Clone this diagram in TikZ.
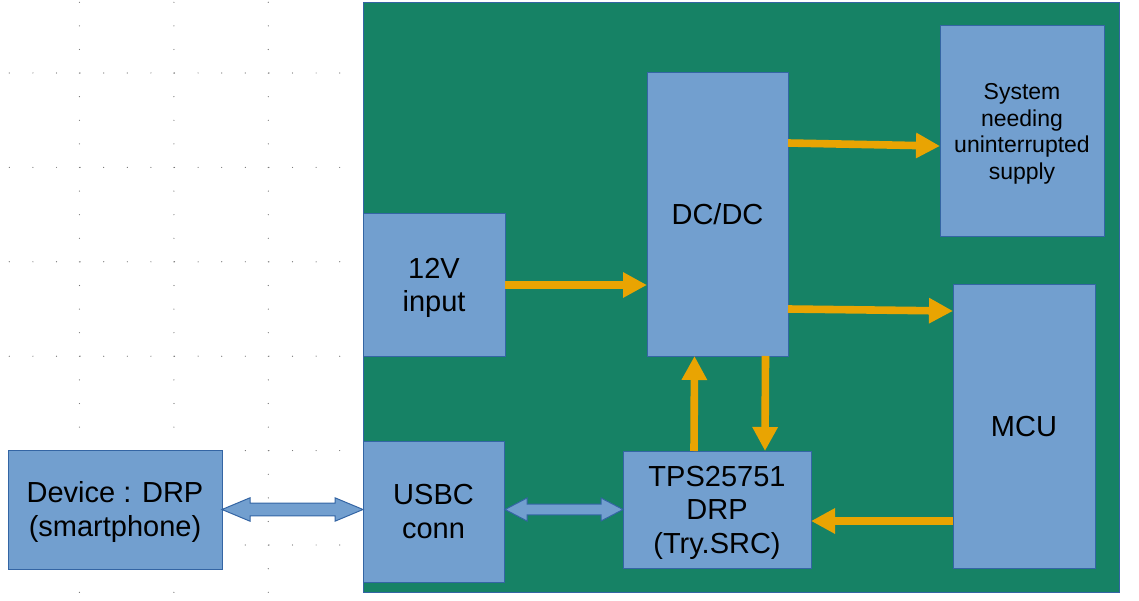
\documentclass[tikz,border=0pt]{standalone}
\usepackage{fontspec}
\setmainfont{Liberation Sans}
\usepackage{xcolor}
\usepackage{tikz}
\usetikzlibrary{arrows.meta,calc}
\definecolor{boardgreen}{HTML}{168265}
\definecolor{boxfill}{HTML}{729FCF}
\definecolor{boxline}{HTML}{3465A4}
\definecolor{pwrorange}{HTML}{E9A402}
\definecolor{griddot}{HTML}{707070}

\tikzset{
  blk/.style={rectangle, draw=boxline, fill=boxfill, line width=1pt, inner sep=0pt, outer sep=0pt,
    align=center, text=black, font=\fontsize{29}{33.5}\selectfont, text height=26.2pt, text depth=6.1pt},
  twoline/.style={text height=59.7pt},
  threeline/.style={text height=93.2pt},
  pwr/.style={draw=pwrorange, line width=7.6pt, -{Triangle[length=24pt,width=24pt]}},
  datalink/.style={draw=boxline, fill=boxfill, line width=1pt, line join=miter}
}

\begin{document}
\begin{tikzpicture}[x=1pt, y=-1pt]
    \useasboundingbox (0,0) rectangle (1139,601);

    % ========== Grid of the drawing page ==========
    \foreach \gx in {79.4,173.9,268.3}
        \foreach \k in {0,...,25}
            \fill[griddot] (\gx,2.3+23.6*\k) circle (0.6pt);
    \foreach \gy in {73,167.4,261.8,356.2,450.6,545}
        \foreach \k in {0,...,14}
            \fill[griddot] (9.3+23.6*\k,\gy) circle (0.6pt);

    % ========== Board ==========
    \draw[boxline, fill=boardgreen, line width=0.8pt] (363,2) rectangle (1119,592);

    % Blocks on the board
    \node[blk, twoline, minimum width=142pt, minimum height=142pt] (vin) at (434,285) {12V\\input};
    \node[blk, minimum width=141pt, minimum height=283pt] (dcdc) at (717.5,214.5) {DC/DC};
    \node[blk, minimum width=164pt, minimum height=211pt, font=\fontsize{23}{26.5}\selectfont,
        text height=100.3pt, text depth=4.9pt]
        (sys) at (1022,131.5) {System\\needing\\uninterrupted\\supply};
    \node[blk, minimum width=142pt, minimum height=283pt] (mcu) at (1024,426.5) {MCU};
    \node[blk, twoline, minimum width=141pt, minimum height=141pt] (usb) at (433.5,511.5) {USBC\\conn};
    \node[blk, threeline, minimum width=188pt, minimum height=117pt] (tps) at (717,509.5) {TPS25751\\DRP\\(Try.SRC)};

    % External device
    \node[blk, twoline, minimum width=214pt, minimum height=119pt] (dev) at (115,509.5) {Device : DRP\\(smartphone)};

    % ========== Power paths ==========
    \draw[pwr] (vin.east) -- (dcdc.west |- vin.east);
    \draw[pwr] ([yshift=71.5pt]dcdc.east) -- ([yshift=-14.5pt]sys.west);
    \draw[pwr] ([yshift=-94.5pt]dcdc.east) -- ([yshift=115.5pt]mcu.west);
    \draw[pwr] ([xshift=-23pt]tps.north) -- ([xshift=-23pt]dcdc.south);
    \draw[pwr] ([xshift=48pt]dcdc.south) -- ([xshift=48pt]tps.north);
    \draw[pwr] ([yshift=-94.5pt]mcu.west) coordinate (ctl) -- (tps.east |- ctl);

    % ========== USB-C data links (fat double arrows) ==========
    \draw[datalink] let \p1=(dev.east), \p2=(usb.west) in
        (\x1,\y1) -- (\x1+28pt,\y1+11.7pt) -- (\x1+28pt,\y1+6.3pt) -- (\x2-28pt,\y1+6.3pt)
        -- (\x2-28pt,\y1+11.7pt) -- (\x2,\y1) -- (\x2-28pt,\y1-11.7pt) -- (\x2-28pt,\y1-6.3pt)
        -- (\x1+28pt,\y1-6.3pt) -- (\x1+28pt,\y1-11.7pt) -- cycle;
    \draw[datalink] let \p1=(usb.east), \p2=(tps.west) in
        (\x1+1pt,\y2) -- (\x1+23pt,\y2+11.5pt) -- (\x1+23pt,\y2+5.3pt) -- (\x2-22pt,\y2+5.3pt)
        -- (\x2-22pt,\y2+11.5pt) -- (\x2,\y2) -- (\x2-22pt,\y2-11.5pt) -- (\x2-22pt,\y2-5.3pt)
        -- (\x1+23pt,\y2-5.3pt) -- (\x1+23pt,\y2-11.5pt) -- cycle;
\end{tikzpicture}
\end{document}
